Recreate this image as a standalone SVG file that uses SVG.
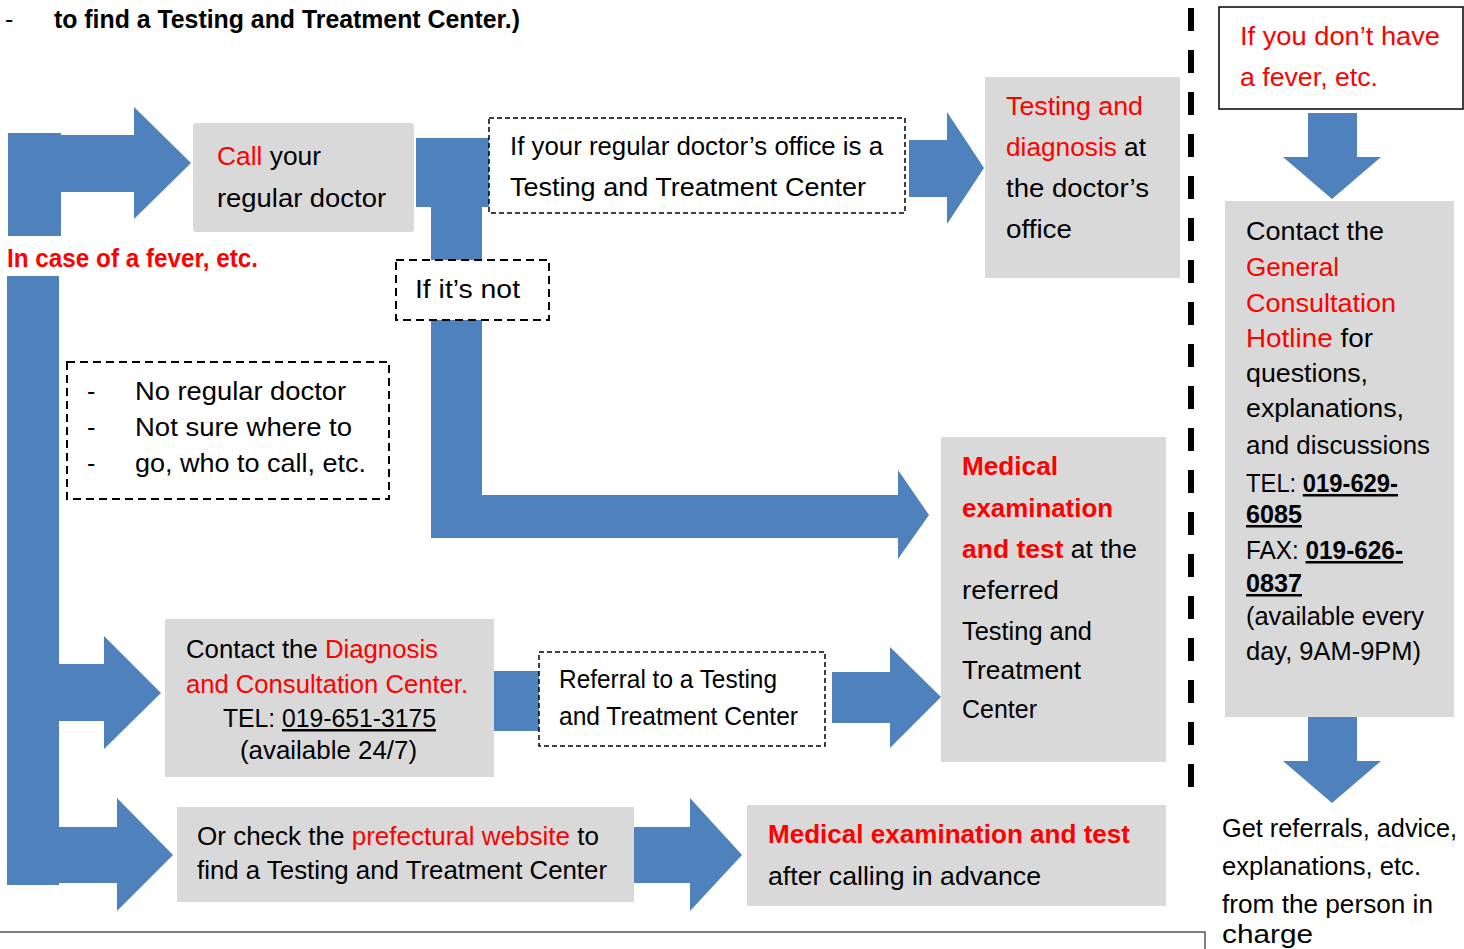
<svg xmlns="http://www.w3.org/2000/svg" width="1464" height="949" viewBox="0 0 1464 949">
<style>
text{font-family:"Liberation Sans",Arial,sans-serif;font-size:25px;fill:#000}
.r{fill:#ff0000}
.b{font-weight:bold}
.u{text-decoration:underline}
.box{fill:#d9d9d9}
.dash{fill:#fff;stroke:#000;stroke-width:1.5;stroke-dasharray:5 3}
.dash2{fill:#fff;stroke:#000;stroke-width:2;stroke-dasharray:8 5}
.arr{fill:#4f81bd}
</style>
<rect width="1464" height="949" fill="#fff"/>

<g id="header">
<text x="5" y="28" font-size="22">-</text>
<text x="54" y="28" class="b" font-size="24.5" textLength="466" lengthAdjust="spacingAndGlyphs">to find a Testing and Treatment Center.)</text>
</g>

<g id="connectors">
<rect class="arr" x="8" y="133" width="53" height="103"/>
<polygon class="arr" points="60,135 134,135 134,107 191,163 134,219 134,192 60,192"/>
<rect class="arr" x="7" y="276" width="52" height="609"/>
<polygon class="arr" points="58,664 104,664 104,636 161,693 104,749 104,721 58,721"/>
<polygon class="arr" points="58,827 117,827 117,798 173,855 117,911 117,883 58,883"/>
<rect class="arr" x="416" y="138" width="73" height="69"/>
<rect class="arr" x="431" y="206" width="51" height="54"/>
<polygon class="arr" points="909,140 947,140 947,112 984,168 947,224 947,197 909,197"/>
<polygon class="arr" points="431,320 482,320 482,495 898,495 898,470 929,515 898,559 898,538 431,538"/>
<rect class="arr" x="492" y="671" width="47" height="60"/>
<polygon class="arr" points="832,672 890,672 890,647 941,697 890,748 890,723 832,723"/>
<polygon class="arr" points="634,827 690,827 690,798 742,855 690,911 690,883 634,883"/>
<polygon class="arr" points="1308,113 1357,113 1357,157 1381,157 1332,199 1283,157 1308,157"/>
<polygon class="arr" points="1308,717 1357,717 1357,761 1381,761 1332,803 1283,761 1308,761"/>
<line x1="1191" y1="8" x2="1191" y2="787" stroke="#000" stroke-width="6" stroke-dasharray="23 19"/>
<polyline points="0,932 1205,932 1205,949" fill="none" stroke="#555" stroke-width="1.5"/>
</g>

<g id="fever-label">
<text x="7" y="267" class="b r" font-size="24" textLength="251" lengthAdjust="spacingAndGlyphs">In case of a fever, etc.</text>
</g>

<g id="call-doctor">
<rect class="box" x="193" y="123" width="221" height="109" rx="3"/>
<text x="217" y="165" textLength="104" lengthAdjust="spacingAndGlyphs"><tspan class="r">Call</tspan> your</text>
<text x="217" y="207" textLength="169" lengthAdjust="spacingAndGlyphs">regular doctor</text>
</g>

<g id="if-tt-center">
<rect class="dash" x="489" y="118" width="416" height="95"/>
<text x="510" y="155" textLength="373" lengthAdjust="spacingAndGlyphs">If your regular doctor’s office is a</text>
<text x="510" y="196" textLength="356" lengthAdjust="spacingAndGlyphs">Testing and Treatment Center</text>
</g>

<g id="if-not">
<rect class="dash2" x="396" y="260" width="153" height="60"/>
<text x="415" y="298" textLength="105" lengthAdjust="spacingAndGlyphs">If it’s not</text>
</g>

<g id="testing-doctor-office">
<rect class="box" x="985" y="77" width="195" height="201"/>
<text x="1006" y="115" class="r" textLength="137" lengthAdjust="spacingAndGlyphs">Testing and</text>
<text x="1006" y="156" textLength="140" lengthAdjust="spacingAndGlyphs"><tspan class="r">diagnosis</tspan> at</text>
<text x="1006" y="197" textLength="143" lengthAdjust="spacingAndGlyphs">the doctor’s</text>
<text x="1006" y="238" textLength="66" lengthAdjust="spacingAndGlyphs">office</text>
</g>

<g id="no-regular-doctor">
<rect class="dash2" x="67" y="362" width="322" height="137"/>
<text x="87" y="400">-</text>
<text x="87" y="436">-</text>
<text x="87" y="472">-</text>
<text x="135" y="400" textLength="211" lengthAdjust="spacingAndGlyphs">No regular doctor</text>
<text x="135" y="436" textLength="217" lengthAdjust="spacingAndGlyphs">Not sure where to</text>
<text x="135" y="472" textLength="231" lengthAdjust="spacingAndGlyphs">go, who to call, etc.</text>
</g>

<g id="medical-referred">
<rect class="box" x="941" y="437" width="225" height="325"/>
<text x="962" y="475" class="b r" textLength="96" lengthAdjust="spacingAndGlyphs">Medical</text>
<text x="962" y="517" class="b r" textLength="151" lengthAdjust="spacingAndGlyphs">examination</text>
<text x="962" y="558" textLength="175" lengthAdjust="spacingAndGlyphs"><tspan class="b r">and test</tspan> at the</text>
<text x="962" y="599" textLength="97" lengthAdjust="spacingAndGlyphs">referred</text>
<text x="962" y="640" textLength="130" lengthAdjust="spacingAndGlyphs">Testing and</text>
<text x="962" y="679" textLength="119" lengthAdjust="spacingAndGlyphs">Treatment</text>
<text x="962" y="718" textLength="75" lengthAdjust="spacingAndGlyphs">Center</text>
</g>

<g id="diagnosis-center">
<rect class="box" x="165" y="619" width="329" height="158"/>
<text x="186" y="658" textLength="252" lengthAdjust="spacingAndGlyphs">Contact the <tspan class="r">Diagnosis</tspan></text>
<text x="186" y="693" class="r" textLength="282" lengthAdjust="spacingAndGlyphs">and Consultation Center.</text>
<text x="223" y="727" textLength="213" lengthAdjust="spacingAndGlyphs">TEL: <tspan class="u">019-651-3175</tspan></text>
<text x="240" y="759" textLength="177" lengthAdjust="spacingAndGlyphs">(available 24/7)</text>
</g>

<g id="referral">
<rect class="dash" x="539" y="652" width="286" height="94"/>
<text x="559" y="688" textLength="218" lengthAdjust="spacingAndGlyphs">Referral to a Testing</text>
<text x="559" y="725" textLength="239" lengthAdjust="spacingAndGlyphs">and Treatment Center</text>
</g>

<g id="prefectural-website">
<rect class="box" x="177" y="807" width="457" height="95"/>
<text x="197" y="845" textLength="402" lengthAdjust="spacingAndGlyphs">Or check the <tspan class="r">prefectural website</tspan> to</text>
<text x="197" y="879" textLength="410" lengthAdjust="spacingAndGlyphs">find a Testing and Treatment Center</text>
</g>

<g id="medical-advance">
<rect class="box" x="747" y="805" width="419" height="101"/>
<text x="768" y="843" class="b r" textLength="362" lengthAdjust="spacingAndGlyphs">Medical examination and test</text>
<text x="768" y="885" textLength="273" lengthAdjust="spacingAndGlyphs">after calling in advance</text>
</g>

<g id="no-fever">
<rect x="1219" y="7" width="244" height="102" fill="#fff" stroke="#000" stroke-width="1.5"/>
<text x="1240" y="45" class="r" textLength="200" lengthAdjust="spacingAndGlyphs">If you don’t have</text>
<text x="1240" y="86" class="r" textLength="138" lengthAdjust="spacingAndGlyphs">a fever, etc.</text>
</g>

<g id="hotline">
<rect class="box" x="1225" y="201" width="229" height="516"/>
<text x="1246" y="240" textLength="138" lengthAdjust="spacingAndGlyphs">Contact the</text>
<text x="1246" y="276" class="r" textLength="93" lengthAdjust="spacingAndGlyphs">General</text>
<text x="1246" y="312" class="r" textLength="150" lengthAdjust="spacingAndGlyphs">Consultation</text>
<text x="1246" y="347" textLength="127" lengthAdjust="spacingAndGlyphs"><tspan class="r">Hotline</tspan> for</text>
<text x="1246" y="382" textLength="122" lengthAdjust="spacingAndGlyphs">questions,</text>
<text x="1246" y="417" textLength="158" lengthAdjust="spacingAndGlyphs">explanations,</text>
<text x="1246" y="454" textLength="184" lengthAdjust="spacingAndGlyphs">and discussions</text>
<text x="1246" y="492" textLength="152" lengthAdjust="spacingAndGlyphs">TEL: <tspan class="b u">019-629-</tspan></text>
<text x="1246" y="523" class="b u" textLength="56" lengthAdjust="spacingAndGlyphs">6085</text>
<text x="1246" y="559" textLength="157" lengthAdjust="spacingAndGlyphs">FAX: <tspan class="b u">019-626-</tspan></text>
<text x="1246" y="592" class="b u" textLength="56" lengthAdjust="spacingAndGlyphs">0837</text>
<text x="1246" y="625" textLength="178" lengthAdjust="spacingAndGlyphs">(available every</text>
<text x="1246" y="660" textLength="175" lengthAdjust="spacingAndGlyphs">day, 9AM-9PM)</text>
</g>

<g id="get-referrals">
<text x="1222" y="837" textLength="235" lengthAdjust="spacingAndGlyphs">Get referrals, advice,</text>
<text x="1222" y="875" textLength="199" lengthAdjust="spacingAndGlyphs">explanations, etc.</text>
<text x="1222" y="913" textLength="211" lengthAdjust="spacingAndGlyphs">from the person in</text>
<text x="1222" y="943" textLength="91" lengthAdjust="spacingAndGlyphs">charge</text>
</g>
</svg>
